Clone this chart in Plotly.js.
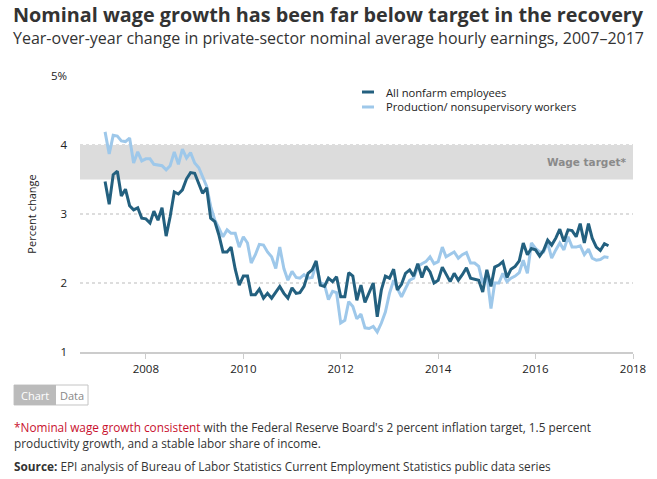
<!DOCTYPE html>
<html>
<head>
<meta charset="utf-8">
<script src="https://cdn.plot.ly/plotly-3.0.1.min.js"></script>
<style>
html,body{margin:0;padding:0;background:#fff;}
#chart{width:657px;height:479px;}
</style>
</head>
<body>
<div id="chart"></div>
<script>
// Monthly data, March 2007 – July 2017
var startYear = 2007, startMonth = 3;
var allNonfarm = [3.47,3.14,3.57,3.62,3.26,3.36,3.12,3.06,3.09,2.94,
2.93,2.87,3.04,2.91,3.09,2.68,2.96,3.32,3.29,3.35,3.51,3.60,
3.59,3.45,3.30,3.38,2.94,2.89,2.70,2.45,2.45,2.52,2.20,1.97,
2.10,2.10,1.83,1.83,1.91,1.78,1.85,1.78,1.86,1.95,1.85,1.78,
1.93,1.85,1.86,1.95,2.14,2.19,2.32,1.97,1.95,2.07,2.02,2.09,
1.80,1.80,2.15,2.10,1.75,1.97,1.72,1.86,2.00,1.51,1.90,2.10,
2.07,2.20,1.90,1.98,2.14,2.19,2.10,2.28,2.08,2.24,2.16,2.00,
2.04,2.23,2.12,2.02,2.14,2.04,2.12,2.22,2.07,2.05,2.04,1.87,
2.19,1.95,2.23,2.26,2.31,2.08,2.20,2.24,2.32,2.58,2.41,2.50,
2.48,2.39,2.47,2.62,2.55,2.65,2.78,2.60,2.77,2.76,2.67,2.86,
2.58,2.86,2.65,2.52,2.47,2.57,2.54];
var production = [4.19,3.87,4.14,4.13,4.06,4.05,4.10,3.74,3.90,3.77,
3.80,3.80,3.72,3.71,3.70,3.64,3.70,3.90,3.72,3.94,3.81,3.89,
3.74,3.67,3.54,3.40,3.11,2.91,2.80,2.67,2.77,2.72,2.72,2.52,
2.67,2.58,2.29,2.41,2.56,2.55,2.45,2.38,2.21,2.52,2.21,2.04,
2.17,2.08,2.07,2.12,2.07,2.08,2.28,2.00,1.98,1.76,1.88,1.86,
1.42,1.46,1.73,1.66,1.48,1.55,1.35,1.34,1.37,1.29,1.42,1.58,
1.85,2.04,1.92,1.80,1.92,2.04,2.07,2.24,2.28,2.31,2.38,2.28,
2.31,2.52,2.38,2.42,2.45,2.36,2.41,2.44,2.29,2.29,2.24,2.00,
2.12,1.63,2.00,2.00,2.14,2.02,2.07,2.10,2.15,2.33,2.14,2.58,
2.50,2.45,2.45,2.58,2.36,2.48,2.58,2.48,2.67,2.52,2.52,2.54,
2.41,2.49,2.36,2.33,2.34,2.38,2.37];
var seriesNames = ["All nonfarm employees","Production/ nonsupervisory workers"];
var targetLow = 3.5, targetHigh = 4.0;
var yTickVals = [1,2,3,4,5];
var yTickText = ["1","2","3","4","5%"];
var xTickVals = ["2008-01-01","2010-01-01","2012-01-01","2014-01-01","2016-01-01","2018-01-01"];
var xTickText = ["2008","2010","2012","2014","2016","2018"];

var dates = [];
for (var i = 0; i < allNonfarm.length; i++) {
  var m = startMonth - 1 + i;
  var y = startYear + Math.floor(m / 12);
  var mm = (m % 12) + 1;
  dates.push(y + "-" + (mm < 10 ? "0" + mm : mm) + "-01");
}

var darkC = "#23607f", lightC = "#9ec8ea";
var font = "'Open Sans', sans-serif";

var traces = [
  {x: dates, y: production, type: "scatter", mode: "lines", name: seriesNames[1],
   line: {color: lightC, width: 3}, hoverinfo: "x+y"},
  {x: dates, y: allNonfarm, type: "scatter", mode: "lines", name: seriesNames[0],
   line: {color: darkC, width: 3}, hoverinfo: "x+y"}
];

var legY = [0.942, 0.8877];
var legColors = [darkC, lightC];

var shapes = [
  {type: "rect", xref: "paper", x0: 0, x1: 1, yref: "y", y0: targetLow, y1: targetHigh,
   fillcolor: "#dcdcdc", line: {width: 0}, layer: "below"},
  {type: "rect", xref: "paper", yref: "paper", x0: -0.1193, x1: 0.0145, y0: -0.1920, y1: -0.1196,
   fillcolor: "#ffffff", line: {color: "#c4c4c4", width: 1}},
  {type: "rect", xref: "paper", yref: "paper", x0: -0.1193, x1: -0.0434, y0: -0.1920, y1: -0.1196,
   fillcolor: "#bbbbbb", line: {width: 0}}
];
var annotations = [
  {xref: "paper", yref: "paper", x: -0.1222, y: 1.2754, xanchor: "left", yanchor: "top", borderpad: 0,
   text: "<b>Nominal wage growth has been far below target in the recovery</b>", showarrow: false,
   font: {family: font, size: 19.8, color: "#333"}},
  {xref: "paper", yref: "paper", x: -0.1222, y: 1.1812, xanchor: "left", yanchor: "top", borderpad: 0,
   text: "Year-over-year change in private-sector nominal average hourly earnings, 2007–2017", showarrow: false,
   font: {family: font, size: 16, color: "#333"}},
  {xref: "paper", yref: "y", x: 0.993, y: 3.75, xanchor: "right", yanchor: "middle",
   text: "<b>Wage target*</b>", showarrow: false,
   font: {family: "'DejaVu Sans', sans-serif", size: 10.5, color: "#8a8a8a"}},
  {xref: "paper", yref: "paper", x: -0.0814, y: -0.1558, xanchor: "center", yanchor: "middle",
   text: "Chart", showarrow: false, font: {family: font, size: 11, color: "#ffffff"}},
  {xref: "paper", yref: "paper", x: -0.0145, y: -0.1558, xanchor: "center", yanchor: "middle",
   text: "Data", showarrow: false, font: {family: font, size: 11, color: "#888"}},
  {xref: "paper", yref: "paper", x: -0.1222, y: -0.2717, xanchor: "left", yanchor: "middle", align: "left",
   text: "<span style='color:#c8102e'>*Nominal wage growth consistent</span> with the Federal Reserve Board's 2 percent inflation target, 1.5 percent", showarrow: false,
   font: {family: font, size: 11.8, color: "#333"}},
  {xref: "paper", yref: "paper", x: -0.1222, y: -0.3297, xanchor: "left", yanchor: "middle", align: "left",
   text: "productivity growth, and a stable labor share of income.", showarrow: false,
   font: {family: font, size: 11.8, color: "#333"}},
  {xref: "paper", yref: "paper", x: -0.1222, y: -0.4130, xanchor: "left", yanchor: "middle", align: "left",
   text: "<b>Source:</b> EPI analysis of Bureau of Labor Statistics Current Employment Statistics public data series", showarrow: false,
   font: {family: font, size: 11.8, color: "#333"}}
];
for (var k = 0; k < seriesNames.length; k++) {
  shapes.push({type: "line", xref: "paper", yref: "paper", x0: 0.5099, x1: 0.5316, y0: legY[k], y1: legY[k],
    line: {color: legColors[k], width: 3}});
  annotations.push({xref: "paper", yref: "paper", x: 0.5498, y: legY[k], xanchor: "left", yanchor: "middle",
    text: seriesNames[k], showarrow: false, font: {family: font, size: 11.2, color: "#222"}});
}

var layout = {
  width: 657, height: 479,
  margin: {l: 80, r: 24, t: 76, b: 127},
  paper_bgcolor: "#fff", plot_bgcolor: "#fff",
  showlegend: false,
  xaxis: {type: "date", range: ["2006-08-25", "2018-01-01"],
    tickvals: xTickVals, ticktext: xTickText, showgrid: false, zeroline: false,
    showline: true, linecolor: "#cccccc", linewidth: 2,
    ticks: "outside", ticklen: 5, tickcolor: "#cccccc", tickwidth: 1,
    tickfont: {family: font, size: 11.5, color: "#222"}, fixedrange: true},
  yaxis: {range: [1, 5], tickvals: yTickVals, ticktext: yTickText,
    showgrid: true, gridcolor: "#dddddd", gridwidth: 2, griddash: "dot",
    zeroline: false, showline: false, ticks: "", ticklabelstandoff: 12,
    tickfont: {family: font, size: 11.5, color: "#222"},
    title: {text: "Percent change", font: {family: font, size: 11, color: "#222"}, standoff: 12},
    fixedrange: true},
  shapes: shapes,
  annotations: annotations
};

Plotly.newPlot("chart", traces, layout, {displayModeBar: false, staticPlot: true});
</script>
</body>
</html>
